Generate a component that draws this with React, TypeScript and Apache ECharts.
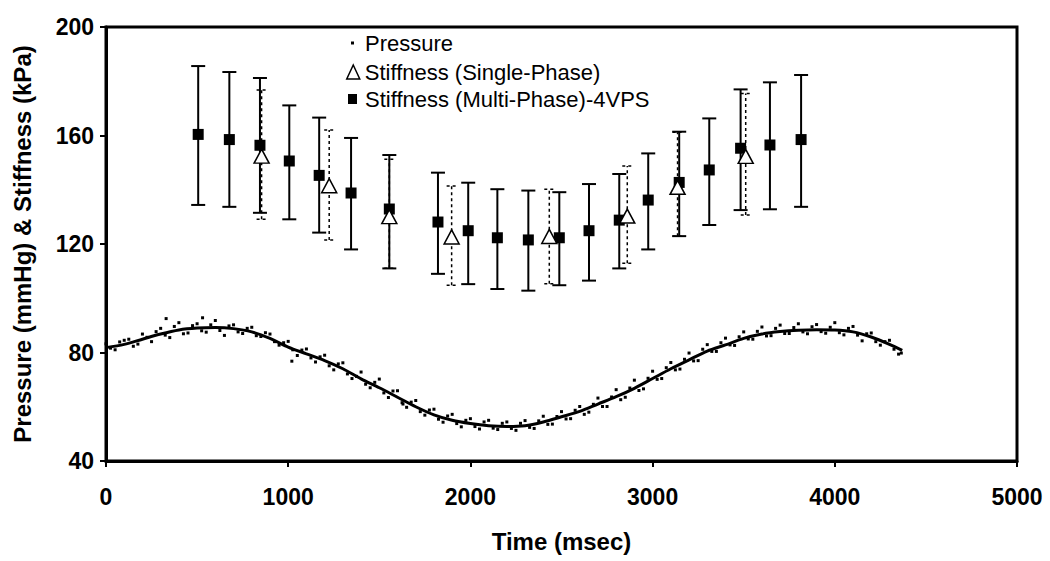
import React, { useEffect, useRef } from "react";
import * as echarts from "echarts";

// ---- data ----
const xTicks = [0, 1000, 2000, 3000, 4000, 5000];
const yTicks = [40, 80, 120, 160, 200];

// fitted pressure curve (ms, mmHg)
const pressureFit: [number, number][] = [
  [0, 81.8], [100, 83.0], [200, 84.9], [300, 86.8], [400, 88.3], [500, 89.0],
  [600, 89.2], [700, 88.8], [800, 87.6], [900, 85.2], [1000, 82.0], [1100, 79.5],
  [1200, 77.0], [1300, 74.0], [1400, 70.3], [1500, 67.0], [1600, 63.5], [1700, 60.0],
  [1800, 57.0], [1900, 55.0], [2000, 53.8], [2100, 53.0], [2200, 52.7], [2300, 53.0],
  [2400, 54.4], [2500, 56.3], [2600, 58.3], [2700, 61.0], [2800, 63.7], [2900, 66.8],
  [3000, 70.4], [3100, 74.0], [3200, 77.3], [3300, 80.5], [3400, 82.8], [3500, 85.2],
  [3600, 86.8], [3700, 87.7], [3800, 88.2], [3900, 88.4], [4000, 88.3], [4100, 87.6],
  [4200, 85.7], [4300, 83.0], [4370, 80.8],
];

// raw pressure samples (ms, mmHg)
const pressureSamples: [number, number][] = [
  [0, 83.2], [25, 81.6], [50, 81.0], [75, 83.9], [100, 84.5], [125, 84.9], [150, 82.3], [175, 83.1],
  [200, 86.8], [225, 85.6], [250, 84.0], [275, 87.7], [300, 88.9], [325, 86.4], [330, 92.5], [350, 85.5],
  [375, 89.6], [400, 91.0], [425, 86.9], [450, 87.2], [475, 89.9], [500, 90.6], [525, 88.0], [530, 92.8],
  [550, 87.5], [575, 90.2], [600, 91.8], [625, 88.1], [650, 86.3], [675, 89.8], [700, 90.2], [725, 87.6],
  [750, 87.0], [775, 88.9], [800, 89.3], [825, 86.2], [850, 85.9], [875, 87.3], [900, 86.8], [925, 84.0],
  [950, 82.7], [975, 83.6], [1000, 84.1], [1020, 76.8], [1025, 81.0], [1050, 78.9], [1075, 80.9], [1100, 81.3],
  [1125, 78.0], [1150, 76.5], [1175, 78.4], [1200, 79.0], [1225, 75.1], [1250, 73.6], [1275, 75.8], [1300, 76.2],
  [1325, 72.1], [1350, 70.4], [1375, 71.2], [1400, 72.8], [1425, 68.3], [1450, 67.0], [1475, 69.0], [1500, 70.2],
  [1525, 65.1], [1550, 63.4], [1575, 65.8], [1600, 65.9], [1625, 61.5], [1630, 61.0], [1650, 59.8], [1675, 61.7],
  [1700, 62.3], [1725, 58.2], [1750, 56.9], [1775, 58.8], [1800, 59.1], [1825, 55.4], [1850, 54.3], [1875, 56.6],
  [1900, 57.2], [1925, 53.8], [1950, 52.6], [1975, 55.0], [2000, 55.6], [2025, 52.7], [2050, 51.8], [2075, 54.4],
  [2100, 55.0], [2125, 52.1], [2150, 51.6], [2175, 53.9], [2200, 54.4], [2225, 52.0], [2250, 51.3], [2275, 53.9],
  [2300, 54.9], [2325, 52.4], [2350, 52.0], [2375, 54.8], [2400, 56.5], [2425, 53.5], [2450, 53.6], [2475, 56.4],
  [2500, 58.2], [2525, 55.5], [2550, 55.6], [2575, 58.7], [2600, 60.1], [2625, 57.2], [2650, 58.0], [2675, 60.9],
  [2700, 63.2], [2725, 60.1], [2750, 60.1], [2775, 63.6], [2800, 66.3], [2825, 62.6], [2850, 63.5], [2875, 66.9],
  [2900, 69.8], [2925, 66.0], [2950, 66.6], [2975, 70.5], [3000, 73.1], [3025, 70.1], [3050, 70.4], [3075, 74.4],
  [3100, 76.3], [3125, 73.6], [3150, 73.9], [3175, 77.5], [3200, 79.8], [3225, 76.9], [3250, 77.0], [3275, 81.2],
  [3300, 82.9], [3325, 80.4], [3350, 80.4], [3375, 83.6], [3400, 85.3], [3425, 82.8], [3450, 82.6], [3475, 85.8],
  [3500, 87.6], [3525, 85.0], [3550, 84.9], [3575, 87.8], [3600, 89.4], [3625, 86.1], [3650, 86.2], [3675, 88.9],
  [3700, 90.1], [3725, 87.0], [3750, 87.0], [3775, 89.2], [3800, 90.6], [3825, 87.6], [3850, 86.9], [3875, 89.5],
  [3900, 90.3], [3925, 87.7], [3950, 87.1], [3975, 89.3], [4000, 91.0], [4025, 87.3], [4050, 86.5], [4075, 88.9],
  [4100, 89.6], [4125, 86.4], [4150, 84.3], [4175, 86.9], [4200, 87.2], [4225, 84.0], [4250, 82.7], [4275, 84.0],
  [4300, 84.5], [4325, 81.2], [4350, 79.4], [4365, 79.8],
];

// Stiffness multi-phase (4VPS): time, mean, low, high
const multiTime = [506, 677, 845, 1006, 1170, 1345, 1555, 1822, 1988, 2148, 2318, 2488, 2651, 2817, 2976, 3146, 3311, 3483, 3644, 3815];
const multiMean = [160.4, 158.5, 156.4, 150.6, 145.3, 138.8, 132.9, 128.1, 124.9, 122.3, 121.5, 122.3, 124.9, 128.8, 136.2, 142.7, 147.3, 155.3, 156.5, 158.5];
const multiLow = [134.4, 133.7, 131.5, 129.1, 124.2, 118.0, 111.0, 109.0, 105.2, 103.4, 102.8, 104.8, 106.5, 111.0, 118.0, 122.9, 127.0, 132.5, 132.8, 133.7];
const multiHigh = [185.6, 183.4, 181.2, 171.1, 166.6, 159.1, 152.8, 146.3, 142.6, 140.2, 139.7, 139.1, 142.1, 145.8, 153.4, 161.4, 166.3, 177.0, 179.6, 182.3];

// Stiffness single-phase: time, mean, low, high
const singleTime = [854, 1225, 1555, 1897, 2433, 2861, 3137, 3511];
const singleMean = [152.4, 141.5, 130.1, 122.6, 122.8, 130.3, 140.9, 152.3];
const singleLow = [129.1, 121.5, 111.1, 104.8, 105.3, 112.9, 122.9, 130.7];
const singleHigh = [176.8, 162.0, 151.2, 141.4, 140.2, 148.8, 161.2, 175.5];

const FONT = "'Liberation Sans', Arial, sans-serif";

function errorSeries(name: string, time: number[], low: number[], high: number[], dashed: boolean) {
  return {
    name,
    type: "custom",
    z: 3,
    data: time.map((t, i) => [t, low[i], high[i]]),
    renderItem: (params: any, api: any) => {
      const lo = api.coord([api.value(0), api.value(1)]);
      const hi = api.coord([api.value(0), api.value(2)]);
      const half = dashed ? 6 : 7;
      const dx = dashed ? 1 : 0;
      const style = {
        stroke: "#000",
        lineWidth: dashed ? 1.5 : 2,
        lineDash: dashed ? [3, 3] : null,
      };
      return {
        type: "group",
        children: [
          { type: "line", shape: { x1: lo[0], y1: lo[1], x2: hi[0], y2: hi[1] }, style },
          { type: "line", shape: { x1: lo[0] - half + dx, y1: lo[1], x2: lo[0] + half + dx, y2: lo[1] }, style },
          { type: "line", shape: { x1: hi[0] - half + dx, y1: hi[1], x2: hi[0] + half + dx, y2: hi[1] }, style },
        ],
      };
    },
  };
}

export default function App() {
  const ref = useRef<HTMLDivElement>(null);
  useEffect(() => {
    if (!ref.current) return;
    const chart = echarts.init(ref.current, null, { renderer: "svg" });
    const axisLabelStyle = { color: "#000", fontFamily: FONT, fontWeight: "bold" as const, fontSize: 23 };
    const legendText = { color: "#000", fontFamily: FONT, fontSize: 22 };
    chart.setOption({
      animation: false,
      backgroundColor: "#fff",
      grid: { left: 106, right: 33, top: 27, bottom: 100, show: true, borderColor: "#000", borderWidth: 3, backgroundColor: "transparent" },
      xAxis: {
        type: "value",
        min: xTicks[0],
        max: xTicks[xTicks.length - 1],
        interval: 1000,
        name: "Time (msec)",
        nameLocation: "middle",
        nameGap: 68,
        nameTextStyle: { color: "#000", fontFamily: FONT, fontWeight: "bold", fontSize: 24 },
        axisLine: { show: true, lineStyle: { color: "#000", width: 3 } },
        axisTick: { show: true, length: 6, lineStyle: { color: "#000", width: 2 } },
        axisLabel: { ...axisLabelStyle, margin: 24, formatter: (v: number) => String(v) },
        splitLine: { show: false },
      },
      yAxis: {
        type: "value",
        min: yTicks[0],
        max: yTicks[yTicks.length - 1],
        interval: 40,
        name: "Pressure (mmHg) & Stiffness (kPa)",
        nameLocation: "middle",
        nameGap: 72,
        nameTextStyle: { color: "#000", fontFamily: FONT, fontWeight: "bold", fontSize: 24 },
        axisLine: { show: true, lineStyle: { color: "#000", width: 3 } },
        axisTick: { show: true, length: 6, lineStyle: { color: "#000", width: 2 } },
        axisLabel: { ...axisLabelStyle, margin: 12, formatter: (v: number) => String(v) },
        splitLine: { show: false },
      },
      legend: [
        {
          data: [{ name: "Pressure", icon: "rect", itemStyle: { color: "#000", opacity: 1 } }],
          left: 351, top: 32, padding: 0, itemWidth: 3, itemHeight: 3, orient: "vertical",
          textStyle: { ...legendText, padding: [0, 0, 0, 6] },
          selectedMode: false,
        },
        {
          data: [{ name: "Stiffness (Single-Phase)", icon: "triangle", itemStyle: { color: "#fff", borderColor: "#000", borderWidth: 1.5, opacity: 1 } }],
          left: 346, top: 61, padding: 0, itemWidth: 13, itemHeight: 14, orient: "vertical",
          textStyle: legendText,
          selectedMode: false,
        },
        {
          data: [{ name: "Stiffness (Multi-Phase)-4VPS", icon: "rect", itemStyle: { color: "#000", opacity: 1 } }],
          left: 348, top: 88, padding: 0, itemWidth: 9, itemHeight: 10, orient: "vertical",
          textStyle: { ...legendText, padding: [0, 0, 0, 3] },
          selectedMode: false,
        },
      ],
      series: [
        {
          name: "Pressure fit",
          type: "line",
          data: pressureFit,
          smooth: 0.3,
          showSymbol: false,
          lineStyle: { color: "#000", width: 3 },
          z: 2,
        },
        {
          name: "Pressure",
          type: "scatter",
          data: pressureSamples,
          symbol: "rect",
          symbolSize: 3,
          itemStyle: { color: "#000", opacity: 1 },
          z: 2,
        },
        errorSeries("Multi error", multiTime, multiLow, multiHigh, false),
        errorSeries("Single error", singleTime, singleLow, singleHigh, true),
        {
          name: "Stiffness (Multi-Phase)-4VPS",
          type: "scatter",
          data: multiTime.map((t, i) => [t, multiMean[i]]),
          symbol: "rect",
          symbolSize: 11,
          itemStyle: { color: "#000", opacity: 1 },
          z: 4,
        },
        {
          name: "Stiffness (Single-Phase)",
          type: "scatter",
          data: singleTime.map((t, i) => [t, singleMean[i]]),
          symbol: "triangle",
          symbolSize: [15, 14],
          itemStyle: { color: "#fff", borderColor: "#000", borderWidth: 1.5, opacity: 1 },
          z: 5,
        },
      ],
    });
    return () => chart.dispose();
  }, []);
  return <div ref={ref} style={{ position: "fixed", left: 0, top: 0, width: 1050, height: 561 }} />;
}
